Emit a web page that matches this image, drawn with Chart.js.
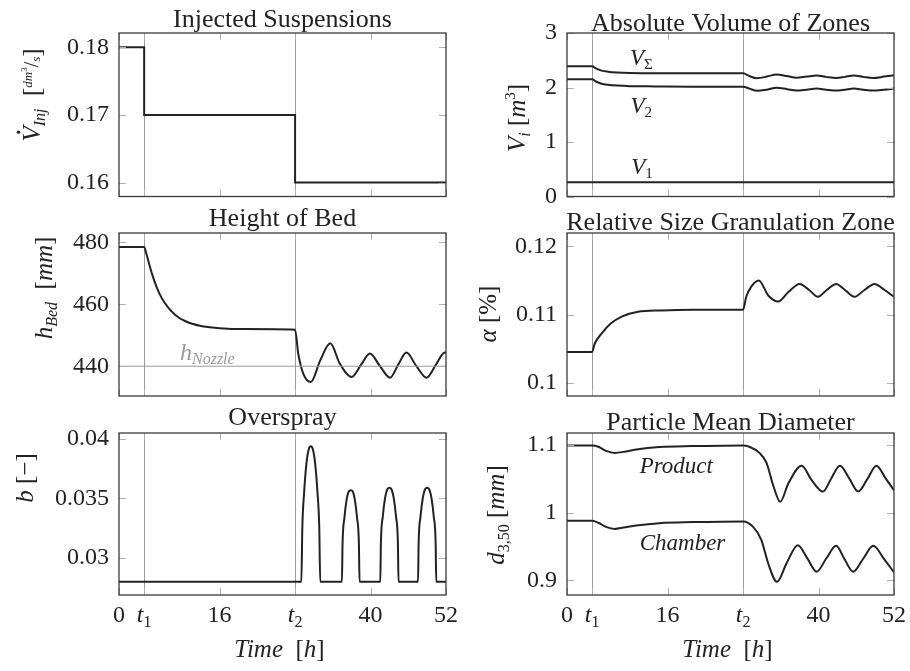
<!DOCTYPE html>
<html>
<head>
<meta charset="utf-8">
<script src="https://cdn.jsdelivr.net/npm/chart.js@4.4.1/dist/chart.umd.min.js"></script>
<style>
  html, body { margin: 0; padding: 0; background: #fff; }
  #wrap { position: relative; width: 910px; height: 671px; }
  #wrap canvas { position: absolute; left: 0; top: 0; }
</style>
</head>
<body>
<div id="wrap">
  <canvas id="injChart" width="910" height="671"></canvas>
  <canvas id="volChart" width="910" height="671"></canvas>
  <canvas id="bedChart" width="910" height="671"></canvas>
  <canvas id="alphaChart" width="910" height="671"></canvas>
  <canvas id="sprayChart" width="910" height="671"></canvas>
  <canvas id="diaChart" width="910" height="671"></canvas>
</div>
<script>
const FONT = '"Liberation Serif", "Times New Roman", serif';
const INK = '#222';
const GRID = '#9a9a9a';

// shared time axis
const xTicks = [0, 4, 16, 28, 40, 52];
const xTickLabels = ['0', 't1', '16', 't2', '40', '52'];
const stepTimes = [4, 28];

// Injected Suspensions
const injTime = [0, 4, 28, 52];
const injValue = [0.18, 0.17, 0.16, 0.16];
const injTicks = [0.16, 0.17, 0.18];

// Absolute Volume of Zones
const volTime = [0, 4, 4.6, 5.5, 6.5, 8, 10, 14, 20, 28, 29, 30.2, 31.8, 33.3, 35, 36.5, 38.1, 39.7, 41.2, 42.8, 44.2, 45.6, 47.1, 48.7, 50.4, 52];
const vSum = [2.39, 2.39, 2.35, 2.31, 2.29, 2.275, 2.265, 2.26, 2.26, 2.26, 2.21, 2.17, 2.2, 2.24, 2.21, 2.18, 2.2, 2.22, 2.195, 2.175, 2.195, 2.22, 2.195, 2.175, 2.2, 2.225];
const v2 = [2.15, 2.15, 2.11, 2.07, 2.05, 2.035, 2.025, 2.02, 2.015, 2.015, 1.98, 1.94, 1.96, 1.995, 1.97, 1.945, 1.96, 1.98, 1.96, 1.945, 1.96, 1.98, 1.96, 1.945, 1.96, 1.98];
const v1Time = [0, 52];
const v1 = [0.26, 0.26];
const volTicks = [0, 1, 2, 3];

// Height of Bed
const bedTime = [0, 4, 4.4, 4.8, 5.3, 6, 6.8, 7.8, 9, 10.5, 13, 16, 20, 28, 28.5, 29.3, 30.5, 32, 33.6, 35.1, 37, 38.5, 39.9, 41.5, 43.1, 44.4, 45.7, 47.3, 48.9, 50.4, 51.8, 52];
const bedValue = [478.5, 478.5, 476, 473, 469.5, 465.5, 462, 459, 456.5, 454.6, 453, 452.3, 452, 451.8, 444.1, 437.6, 434.9, 441.9, 447.4, 440.9, 436.5, 440.5, 444.1, 440, 436.3, 440.5, 444.4, 440, 436.3, 440.5, 444.4, 444.3];
const nozzleTime = [0, 52];
const nozzleValue = [440, 440];
const bedTicks = [440, 460, 480];

// Relative Size Granulation Zone
const alphaTime = [0, 4, 4.4, 5.5, 7, 8.7, 11.3, 15, 20, 28, 28.5, 29.3, 30.5, 32, 33.6, 35.2, 37, 38.5, 39.9, 41.3, 42.8, 44.2, 45.7, 47.3, 48.9, 50.5, 52];
const alphaValue = [0.1045, 0.1045, 0.1057, 0.1072, 0.1087, 0.1097, 0.1104, 0.1106, 0.1107, 0.1107, 0.1126, 0.1141, 0.115, 0.1128, 0.1119, 0.1133, 0.1145, 0.1136, 0.1126, 0.1136, 0.1145, 0.1136, 0.1126, 0.1136, 0.1145, 0.1136, 0.1126];
const alphaTicks = [0.1, 0.11, 0.12];

// Overspray
const sprayTime = [0, 29.0, 29.15, 29.45, 29.8, 30.15, 30.5, 30.85, 31.2, 31.55, 31.85, 32.0,
  35.45, 35.55, 35.85, 36.2, 36.55, 36.85, 37.15, 37.5, 37.85, 38.15, 38.25,
  41.55, 41.65, 41.95, 42.3, 42.7, 43.0, 43.3, 43.7, 44.05, 44.35, 44.45,
  47.55, 47.65, 47.95, 48.3, 48.7, 49.0, 49.3, 49.7, 50.05, 50.35, 50.45, 52];
const sprayValue = [0.028, 0.028, 0.0325, 0.0356, 0.0379, 0.0391, 0.0394, 0.0391, 0.0379, 0.0356, 0.0325, 0.028,
  0.028, 0.0312, 0.0334, 0.0349, 0.0356, 0.0357, 0.0356, 0.0349, 0.0334, 0.0312, 0.028,
  0.028, 0.0313, 0.0335, 0.0350, 0.0358, 0.0359, 0.0358, 0.0350, 0.0335, 0.0313, 0.028,
  0.028, 0.0313, 0.0335, 0.0350, 0.0358, 0.0359, 0.0358, 0.0350, 0.0335, 0.0313, 0.028, 0.028];
const sprayTicks = [0.03, 0.035, 0.04];

// Particle Mean Diameter
const productTime = [0, 4, 5, 6.2, 7.6, 9, 11, 14.7, 20, 28, 29, 30.6, 31.7, 32.8, 33.9, 35.2, 37.3, 38.9, 40.7, 42.0, 43.4, 44.9, 46.3, 47.8, 49.2, 50.7, 52];
const productValue = [1.099, 1.099, 1.097, 1.091, 1.088, 1.0895, 1.093, 1.0966, 1.098, 1.099, 1.097, 1.088, 1.074, 1.04, 1.016, 1.043, 1.069, 1.048, 1.031, 1.05, 1.069, 1.05, 1.031, 1.05, 1.069, 1.05, 1.033];
const chamberTime = [0, 4, 5, 6.2, 7.6, 9, 11, 14.7, 20, 28, 29.6, 30.9, 32, 33.4, 34.9, 36.7, 38.2, 39.7, 41.2, 42.8, 44.1, 45.5, 47.1, 48.7, 50.4, 52];
const chamberValue = [0.988, 0.988, 0.985, 0.979, 0.976, 0.978, 0.981, 0.9845, 0.986, 0.987, 0.979, 0.96, 0.925, 0.898, 0.925, 0.952, 0.933, 0.913, 0.932, 0.951, 0.932, 0.913, 0.932, 0.951, 0.932, 0.912];
const diaTicks = [0.9, 1, 1.1];

function pts(xs, ys) {
  return xs.map(function (x, i) { return { x: x, y: ys[i] }; });
}

function fontOf(p) {
  return (p.it ? 'italic ' : '') + (p.size || 24) + 'px ' + FONT;
}

// draws a run of text pieces (italic, sub/superscripts) along the baseline
function drawRich(ctx, parts, x, y, align, color) {
  let w = 0;
  parts.forEach(function (p) { ctx.font = fontOf(p); w += ctx.measureText(p.t).width; });
  let cx = align == 'center' ? x - w / 2 : x;
  ctx.textAlign = 'left';
  ctx.textBaseline = 'alphabetic';
  parts.forEach(function (p) {
    ctx.font = fontOf(p);
    ctx.fillStyle = color || INK;
    ctx.fillText(p.t, cx, y + (p.dy || 0));
    const pw = ctx.measureText(p.t).width;
    if (p.dot) {
      ctx.beginPath();
      ctx.arc(cx + pw * 0.62, y - (p.size || 24) * 0.86, 1.7, 0, Math.PI * 2);
      ctx.fill();
    }
    cx += pw;
  });
}

function tickParts(label) {
  if (label[0] == 't') return [{ t: 't', it: 1, size: 24 }, { t: label.slice(1), size: 16, dy: 5 }];
  return [{ t: label, size: 24 }];
}

const pgfPlot = {
  id: 'pgf',
  afterDatasetsDraw(chart, args, opts) {
    const ctx = chart.ctx, a = chart.chartArea;
    const xs = chart.scales.x, ys = chart.scales.y;
    ctx.save();
    // short inner tick marks on every side
    ctx.strokeStyle = '#b0b0b0';
    ctx.lineWidth = 1;
    ctx.beginPath();
    xTicks.forEach(function (v) {
      const px = Math.round(xs.getPixelForValue(v)) + 0.5;
      ctx.moveTo(px, a.top); ctx.lineTo(px, a.top + 7);
      ctx.moveTo(px, a.bottom); ctx.lineTo(px, a.bottom - 7);
    });
    ys.ticks.forEach(function (t) {
      const py = Math.round(ys.getPixelForValue(t.value)) + 0.5;
      ctx.moveTo(a.left, py); ctx.lineTo(a.left + 7, py);
      ctx.moveTo(a.right, py); ctx.lineTo(a.right - 7, py);
    });
    ctx.stroke();
    // frame
    ctx.strokeStyle = '#3a3a3a';
    ctx.lineWidth = 1.3;
    ctx.strokeRect(a.left, a.top, a.right - a.left, a.bottom - a.top);
    const mid = (a.left + a.right) / 2;
    // title
    ctx.font = '26px ' + FONT;
    ctx.fillStyle = INK;
    ctx.textAlign = 'center';
    ctx.textBaseline = 'alphabetic';
    ctx.fillText(opts.title, mid, opts.titleY);
    // rotated y label
    ctx.save();
    ctx.translate(opts.ylabelX, opts.ylabelY);
    ctx.rotate(-Math.PI / 2);
    drawRich(ctx, opts.ylabel, 0, 0, 'center');
    ctx.restore();
    // in-plot annotations
    (opts.notes || []).forEach(function (n) {
      drawRich(ctx, n.parts, xs.getPixelForValue(n.x), ys.getPixelForValue(n.y), 'left', n.color);
    });
    // time axis labels on the bottom row
    if (opts.xLabels) {
      xTicks.forEach(function (v, i) {
        drawRich(ctx, tickParts(xTickLabels[i]), xs.getPixelForValue(v), a.bottom + 27, 'center');
      });
      drawRich(ctx, [{ t: 'Time', it: 1, size: 25 }, { t: '  [', size: 25 }, { t: 'h', it: 1, size: 25 }, { t: ']', size: 25 }],
        mid - 3, a.bottom + 62, 'center');
    }
    ctx.restore();
  }
};

function makeChart(id, box, yMin, yMax, yTicks, datasets, deco) {
  return new Chart(document.getElementById(id), {
    type: 'line',
    data: { datasets: datasets },
    options: {
      responsive: false,
      animation: false,
      devicePixelRatio: 1,
      layout: { padding: { left: box[0] - 100, top: box[1], right: 910 - box[2], bottom: 671 - box[3] } },
      plugins: { legend: { display: false }, tooltip: { enabled: false }, pgf: deco },
      elements: {
        point: { radius: 0 },
        line: { borderWidth: 2, borderColor: INK, cubicInterpolationMode: 'monotone', fill: false }
      },
      scales: {
        x: {
          type: 'linear', min: 0, max: 52,
          afterBuildTicks: function (s) { s.ticks = xTicks.map(function (v) { return { value: v }; }); },
          afterFit: function (s) { s.height = 0; },
          ticks: { display: false },
          grid: {
            drawTicks: false, lineWidth: 1,
            color: function (c) { return c.tick && stepTimes.indexOf(c.tick.value) >= 0 ? GRID : 'rgba(0,0,0,0)'; }
          },
          border: { display: false }
        },
        y: {
          type: 'linear', min: yMin, max: yMax,
          afterBuildTicks: function (s) { s.ticks = yTicks.map(function (v) { return { value: v }; }); },
          afterFit: function (s) { s.width = 100; },
          ticks: {
            font: { family: FONT, size: 24 }, color: INK, padding: 10,
            callback: function (v) { return String(+v.toFixed(4)); }
          },
          grid: { display: false, drawTicks: false },
          border: { display: false }
        }
      }
    },
    plugins: [pgfPlot]
  });
}

const LEFT = [119, 446], RIGHT = [567, 894];

makeChart('injChart', [LEFT[0], 33, LEFT[1], 196.5], 0.15794, 0.1821, injTicks,
  [{ data: pts(injTime, injValue), stepped: true }],
  {
    title: 'Injected Suspensions', titleY: 27, ylabelX: 40, ylabelY: 95,
    ylabel: [{ t: 'V', it: 1, size: 25, dot: 1 }, { t: 'Inj', it: 1, size: 16, dy: 5 }, { t: '  [', size: 25 },
      { t: 'dm', it: 1, size: 13, dy: -8 }, { t: '3', size: 9, dy: -13 }, { t: '/', size: 20, dy: -2 },
      { t: 's', it: 1, size: 13 }, { t: ']', size: 25 }]
  });

makeChart('volChart', [RIGHT[0], 33, RIGHT[1], 196.5], 0, 3, volTicks,
  [{ data: pts(volTime, vSum) }, { data: pts(volTime, v2) }, { data: pts(v1Time, v1) }],
  {
    title: 'Absolute Volume of Zones', titleY: 31, ylabelX: 525, ylabelY: 118,
    ylabel: [{ t: 'V', it: 1, size: 25 }, { t: 'i', it: 1, size: 16, dy: 5 }, { t: ' [', size: 25 },
      { t: 'm', it: 1, size: 25 }, { t: '3', size: 15, dy: -10 }, { t: ']', size: 25 }],
    notes: [
      { x: 10, y: 2.41, parts: [{ t: 'V', it: 1, size: 23 }, { t: '\u03a3', size: 15, dy: 4 }] },
      { x: 10.1, y: 1.53, parts: [{ t: 'V', it: 1, size: 23 }, { t: '2', size: 15, dy: 4 }] },
      { x: 10.2, y: 0.42, parts: [{ t: 'V', it: 1, size: 23 }, { t: '1', size: 15, dy: 4 }] }
    ]
  });

makeChart('bedChart', [LEFT[0], 233, LEFT[1], 396], 430.37, 483.05, bedTicks,
  [{ data: pts(nozzleTime, nozzleValue), borderColor: GRID, borderWidth: 1 },
   { data: pts(bedTime, bedValue) }],
  {
    title: 'Height of Bed', titleY: 226, ylabelX: 52, ylabelY: 288,
    ylabel: [{ t: 'h', it: 1, size: 25 }, { t: 'Bed', it: 1, size: 16, dy: 5 }, { t: '  [', size: 25 },
      { t: 'mm', it: 1, size: 25 }, { t: ']', size: 25 }],
    notes: [
      { x: 9.7, y: 442, color: '#999', parts: [{ t: 'h', it: 1, size: 24 }, { t: 'Nozzle', it: 1, size: 16, dy: 4 }] }
    ]
  });

makeChart('alphaChart', [RIGHT[0], 233, RIGHT[1], 396], 0.09802, 0.12198, alphaTicks,
  [{ data: pts(alphaTime, alphaValue) }],
  {
    title: 'Relative Size Granulation Zone', titleY: 230, ylabelX: 496, ylabelY: 314,
    ylabel: [{ t: '\u03b1', it: 1, size: 25 }, { t: ' [%]', size: 25 }]
  });

makeChart('sprayChart', [LEFT[0], 433, LEFT[1], 595], 0.026883, 0.040505, sprayTicks,
  [{ data: pts(sprayTime, sprayValue) }],
  {
    title: 'Overspray', titleY: 425, ylabelX: 33, ylabelY: 478, xLabels: true,
    ylabel: [{ t: 'b', it: 1, size: 25 }, { t: ' [\u2212]', size: 25 }]
  });

makeChart('diaChart', [RIGHT[0], 433, RIGHT[1], 595], 0.8786, 1.1173, diaTicks,
  [{ data: pts(productTime, productValue) }, { data: pts(chamberTime, chamberValue) }],
  {
    title: 'Particle Mean Diameter', titleY: 430, ylabelX: 504, ylabelY: 515, xLabels: true,
    ylabel: [{ t: 'd', it: 1, size: 25 }, { t: '3,50', size: 16, dy: 5 }, { t: ' [', size: 25 },
      { t: 'mm', it: 1, size: 25 }, { t: ']', size: 25 }],
    notes: [
      { x: 11.56, y: 1.058, parts: [{ t: 'Product', it: 1, size: 23 }] },
      { x: 11.56, y: 0.945, parts: [{ t: 'Chamber', it: 1, size: 23 }] }
    ]
  });
</script>
</body>
</html>
